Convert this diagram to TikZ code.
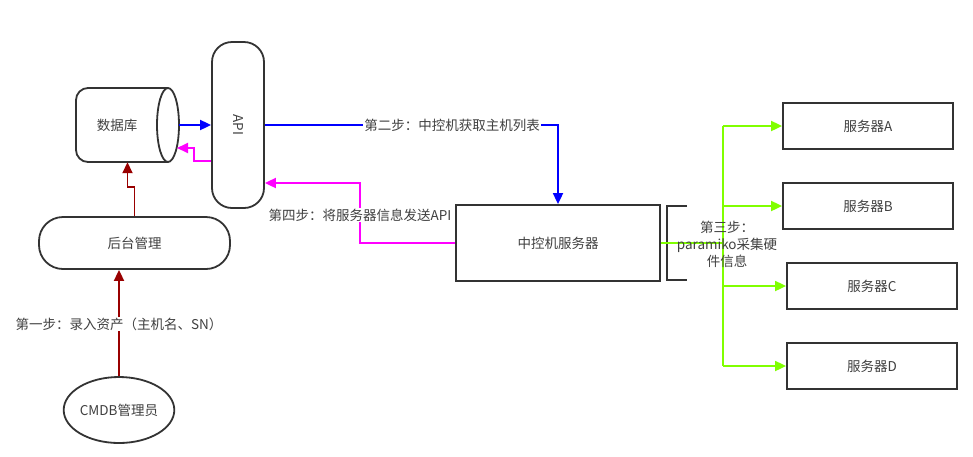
\documentclass[tikz,border=0pt]{standalone}
\usepackage{fontspec}
\setmainfont{Noto Sans CJK SC}
\usetikzlibrary{arrows.meta,shapes.geometric,calc}
\definecolor{ln}{HTML}{333333}
\definecolor{txt}{HTML}{404040}
\definecolor{dred}{HTML}{990000}
\definecolor{grn}{HTML}{80FF00}
\definecolor{blu}{HTML}{0000FF}
\definecolor{mag}{HTML}{FF00FF}
\begin{document}
\begin{tikzpicture}[x=1pt,y=-1pt,
  font=\fontsize{13.5}{17}\selectfont,
  every node/.style={text=txt},
  box/.style={draw=ln, line width=1.8pt, fill=white, inner sep=0pt},
  srv/.style={box, minimum width=170pt, minimum height=46pt},
  arr/.style={line width=1.8pt, -{Triangle[length=11pt,width=10pt]}},
  lbl/.style={fill=white, inner sep=1pt}]
\useasboundingbox (0,0) rectangle (973,456);

% database cylinder
\node[inner sep=0pt, minimum width=103pt, minimum height=74pt] (db) at (127.5,125) {};
\draw[ln, line width=1.8pt, fill=white, rounded corners=12pt] (168,88) -- (76,88) -- (76,162) -- (168,162);
\draw[ln, line width=1.8pt, fill=white] (168,125) ellipse [x radius=11, y radius=37];
\node (dbt) at (117,125) {数据库};

% API
\node[box, rounded corners=20pt, minimum width=52pt, minimum height=166pt] (api) at (238,125) {};
\node[rotate=-90] (apit) at (api.center) {API};

% backend
\node[box, rounded corners=24pt, minimum width=191pt, minimum height=52pt] (bg) at (134.5,243) {后台管理};

% CMDB admin
\node[box, ellipse, minimum width=108pt, minimum height=66pt] (cmdb) at (119,410) {CMDB管理员};

% control server
\node[box, minimum width=204pt, minimum height=76pt] (zk) at (558,243) {中控机服务器};

% servers
\node[srv] (sa) at (868,126) {服务器A};
\node[srv] (sb) at (868,206) {服务器B};
\node[srv] (sc) at (872,286) {服务器C};
\node[srv] (sd) at (872,366) {服务器D};

% step 1
\draw[arr, dred] (cmdb.north) -- (cmdb.north |- bg.south);
\node[lbl] (l1) at (119,324) {第一步：录入资产（主机名、SN）};
\draw[arr, dred] (bg.north) -- (bg.north |- 0,187) -- (db.south |- 0,187) -- (db.south);

% db <-> api
\draw[arr, blu] (db.east) -- (api.west);
\coordinate (dbm) at (177,148);
\draw[arr, mag] (api.west |- 0,161) -- (194,161) -- (194,148) -- (dbm);

% step 2
\draw[arr, blu] (api.east) -- (zk.north |- api.east) -- (zk.north);
\node[lbl] (l2) at (452,125) {第二步：中控机获取主机列表};

% step 4
\draw[arr, mag] (zk.west) -- (360,243) -- (360,183) -- (api.east |- 0,183);
\node[lbl] (l4) at (360,215) {第四步：将服务器信息发送API};

% step 3
\draw[ln, line width=1.8pt] (687,206) -- (667,206) -- (667,280) -- (687,280);
\coordinate (gj) at (723,243);
\draw[grn, line width=1.8pt] (zk.east) -- (gj);
\draw[grn, line width=1.8pt] (723,126) -- (723,366);
\draw[arr, grn] (723,126) -- (sa.west);
\draw[arr, grn] (723,206) -- (sb.west);
\draw[arr, grn] (723,286) -- (sc.west);
\draw[arr, grn] (723,366) -- (sd.west);
\node[align=center, inner sep=0pt] (l3) at (727,244) {第三步：\\paramiko采集硬\\件信息};
\end{tikzpicture}
\end{document}
